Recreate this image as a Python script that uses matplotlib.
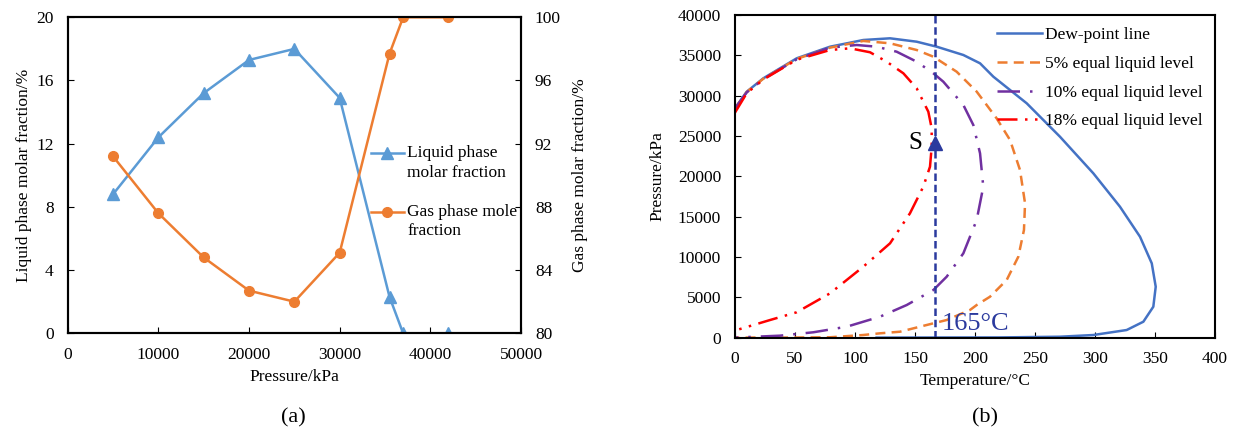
import matplotlib
matplotlib.use("Agg")
import matplotlib.pyplot as plt

plt.rcParams['font.family'] = 'Liberation Serif'

# (a) molar fraction vs pressure
pressure = [5000, 10000, 15000, 20000, 25000, 30000, 35500, 37000, 42000]
liquid_frac = [8.8, 12.4, 15.2, 17.3, 18.0, 14.9, 2.3, 0.0, 0.0]
gas_frac = [91.2, 87.6, 84.8, 82.7, 82.0, 85.1, 97.7, 100.0, 100.0]

# (b) phase envelope, temperature (C) / pressure (kPa)
dew_T = [0, 9.75, 23.6, 51.4, 79.2, 106.9, 129.2, 151.4, 168.1, 190.3, 204.2,
         215.3, 243.1, 270.8, 298.6, 320.8, 337.5, 347.3, 350.6, 348.6, 340.3,
         326.4, 298.6, 270.8, 220, 118]
dew_P = [28430, 30490, 32150, 34630, 36070, 36900, 37110, 36690, 36070, 35040,
         34010, 32350, 29050, 24910, 20370, 16230, 12510, 9210, 6310, 3830,
         1970, 940, 320, 110, 20, 0]

l5_T = [0, 9.75, 23.6, 51.4, 79.2, 106.9, 129.2, 151.4, 165.3, 184.7, 201.4,
        218, 229.2, 237.5, 241.7, 240.8, 236.1, 226.4, 212.5, 201.4, 195.8,
        176.4, 165.3, 137.5, 120.8, 106.7, 79.2, 40, 0]
l5_P = [28430, 30450, 32100, 34550, 35950, 36780, 36490, 35660, 34830, 32970,
        30500, 27190, 24500, 20780, 16650, 13340, 10030, 7140, 5070, 4040, 3420,
        2180, 1770, 730, 530, 320, 40, 0, 0]

l10_T = [0, 9.75, 23.6, 51.4, 79.2, 101.4, 118, 134.7, 151.4, 165.3, 173.6,
         190.3, 198.6, 204.2, 206.9, 201.4, 190.3, 176.4, 165.3, 143.1, 120.8,
         93.1, 65.3, 37.5, 0]
l10_P = [28430, 30400, 32050, 34500, 35950, 36280, 36070, 35450, 34210, 32770,
         31730, 28840, 26360, 22850, 18710, 14580, 10450, 7550, 5900, 4040,
         2590, 1350, 660, 240, 0]

l18_T = [0, 9.75, 23.6, 51.4, 79.2, 95.8, 112.5, 126.4, 140.3, 151.4, 161.1,
         163.9, 163.9, 162.5, 156.9, 145.8, 129.2, 106.9, 79.2, 51.4, 29.2,
         1.4, 0]
l18_P = [27900, 30300, 32000, 34450, 35660, 35870, 35380, 34210, 32770, 30910,
         28010, 25950, 23670, 21190, 18710, 15410, 11690, 8790, 5490, 3140,
         2180, 940, 900]

marker_T = 167
arrow_P = 24190

fig = plt.figure(figsize=(12.37, 4.33), dpi=100)

# ---- (a)
ax1 = fig.add_axes([67.7 / 1237, 1 - 333.3 / 433, 453.3 / 1237, 316 / 433])
ax2 = ax1.twinx()
l1, = ax1.plot(pressure, liquid_frac, color='#5B9BD5', lw=1.8, marker='^', ms=8,
               label='\nLiquid phase\nmolar fraction')
l2, = ax2.plot(pressure, gas_frac, color='#ED7D31', lw=1.8, marker='o', ms=7,
               label='\nGas phase mole\nfraction')
ax1.set_xlim(0, 50000)
ax1.set_ylim(0, 20)
ax2.set_ylim(80, 100)
ax1.set_xticks(range(0, 50001, 10000))
ax1.set_yticks(range(0, 21, 4))
ax2.set_yticks(range(80, 101, 4))
ax1.set_xlabel('Pressure/kPa', fontsize=12.5)
ax1.set_ylabel('Liquid phase molar fraction/%', fontsize=12.5, labelpad=3)
ax2.set_ylabel('Gas phase molar fraction/%', fontsize=12.5, labelpad=8)
for a in (ax1, ax2):
    a.tick_params(direction='in', labelsize=12.5, length=4, pad=10)
    for s in a.spines.values():
        s.set_linewidth(1.5)
leg = ax1.legend(handles=[l1, l2], loc='upper left',
                 bbox_to_anchor=(0.669, 0.658), frameon=False, fontsize=12.5,
                 handlelength=1.9, labelspacing=0.2, handletextpad=0.2,
                 borderpad=0, borderaxespad=0)
for t in leg.get_texts():
    t.set_linespacing(1.3)
fig.text(0.237, 0.025, '(a)', fontsize=16, ha='center')

# ---- (b)
ax3 = fig.add_axes([735 / 1237, 1 - 337.6 / 433, 480 / 1237, 322.6 / 433])
ax3.plot(dew_T, dew_P, color='#4472C4', lw=1.8, label='Dew-point line')
ax3.plot(l5_T, l5_P, color='#ED7D31', lw=1.8, ls=(0, (4, 2.5)),
         label='5% equal liquid level')
ax3.plot(l10_T, l10_P, color='#7030A0', lw=1.8, ls=(0, (9, 4, 1, 4)),
         label='10% equal liquid level')
ax3.plot(l18_T, l18_P, color='#FF0000', lw=1.8, ls=(0, (8, 3, 1, 3, 1, 3)),
         label='18% equal liquid level')
ax3.axvline(marker_T, color='#2B3A9E', lw=1.8, ls=(0, (3, 1.5)))
ax3.plot([marker_T], [arrow_P], marker='^', ms=10, color='#2B3A9E')
ax3.text(150, arrow_P, 'S', fontsize=18, ha='center', va='center')
ax3.text(172, 950, '165°C', fontsize=19, color='#2B3A9E',
         ha='left', va='baseline')
ax3.set_xlim(0, 400)
ax3.set_ylim(0, 40000)
ax3.set_xticks(range(0, 401, 50))
ax3.set_yticks(range(0, 40001, 5000))
ax3.set_xlabel('Temperature/°C', fontsize=12.5)
ax3.set_ylabel('Pressure/kPa', fontsize=12.5, labelpad=9)
ax3.tick_params(direction='in', labelsize=12.5, length=4, pad=10)
for s in ax3.spines.values():
    s.set_linewidth(1.5)
ax3.legend(loc='upper right', frameon=False, fontsize=12.5, handlelength=2.6,
           handletextpad=0.2, borderaxespad=0.3, labelspacing=0.72)
fig.text(0.796, 0.025, '(b)', fontsize=16, ha='center')

fig.savefig('out.png', dpi=100)
